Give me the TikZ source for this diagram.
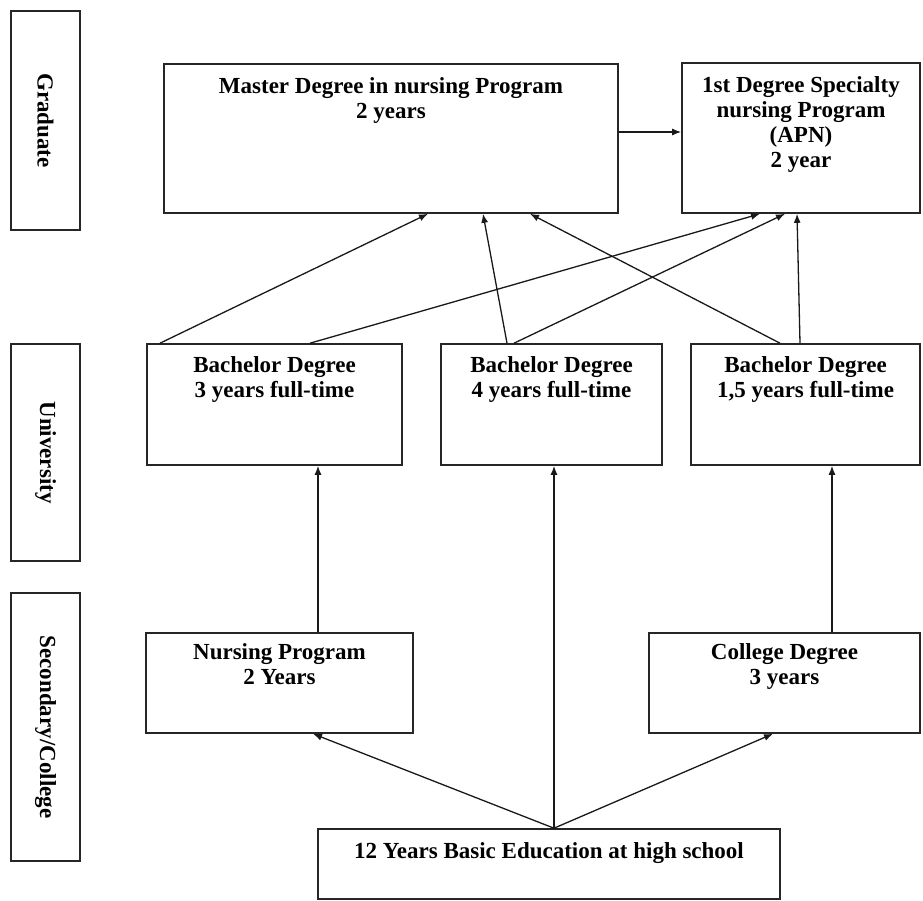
\documentclass[tikz,border=0pt]{standalone}
\usepackage{fontspec}
\setmainfont{Liberation Serif}
\usetikzlibrary{arrows.meta}
\begin{document}
\begin{tikzpicture}[x=1pt,y=-1pt,
  box/.style={draw=black!85, line width=1.6pt, fill=white, inner sep=0pt},
  side/.style={box, rotate=-90, font=\fontsize{23}{25}\selectfont\bfseries},
  txt/.style={font=\fontsize{23}{25}\selectfont\bfseries, align=center, inner sep=0pt, anchor=north},
  arr/.style={draw=black!90, line width=1.3pt, -{Latex[length=9pt,width=7pt]}}
]
\useasboundingbox (0,0) rectangle (923,901);
\fill[white] (0,0) rectangle (923,901);

% side labels
\node[side, minimum width=219pt, minimum height=69pt] (grad) at (45.5,120.5) {Graduate};
\node[side, minimum width=217pt, minimum height=69pt] (univ) at (45.5,452.5) {University};
\node[side, minimum width=268pt, minimum height=69pt] (sec) at (45.5,727) {Secondary/College};

% boxes
\node[box, minimum width=454pt, minimum height=149pt] (master) at (391,138.5) {};
\node[txt] (mastert) at ([yshift=-14pt]master.north) {Master Degree in nursing Program\\2 years};

\node[box, minimum width=238pt, minimum height=150pt] (first) at (801,138) {};
\node[txt] (firstt) at ([yshift=-14pt]first.north) {1st Degree Specialty\\nursing Program\\(APN)\\2 year};

\node[box, minimum width=255pt, minimum height=121pt] (b3) at (274.5,404.5) {};
\node[txt] (b3t) at ([yshift=-13pt]b3.north) {Bachelor Degree\\3 years full-time};

\node[box, minimum width=221pt, minimum height=121pt] (b4) at (551.5,404.5) {};
\node[txt] (b4t) at ([yshift=-13pt]b4.north) {Bachelor Degree\\4 years full-time};

\node[box, minimum width=229pt, minimum height=121pt] (b15) at (805.5,404.5) {};
\node[txt] (b15t) at ([yshift=-13pt]b15.north) {Bachelor Degree\\1,5 years full-time};

\node[box, minimum width=267pt, minimum height=100pt] (nurs) at (279.5,683) {};
\node[txt] (nurst) at ([yshift=-11pt]nurs.north) {Nursing Program\\2 Years};

\node[box, minimum width=271pt, minimum height=100pt] (coll) at (784.5,683) {};
\node[txt] (collt) at ([yshift=-11pt]coll.north) {College Degree\\3 years};

\node[box, minimum width=462pt, minimum height=70pt] (twelve) at (549,864) {};
\node[txt] (twelvet) at ([yshift=-14pt]twelve.north) {12 Years Basic Education at high school};

% connectors
\draw[arr] (master.east |- 0,132) -- (first.west |- 0,132);

\draw[arr] (b3.north -| 160,0) -- (master.south -| 428,0);
\draw[arr] (b3.north -| 310,0) -- (first.south -| 760,0);
\draw[arr] (b4.north -| 507,0) -- (master.south -| 483,0);
\draw[arr] (b4.north -| 514,0) -- (first.south -| 785,0);
\draw[arr] (b15.north -| 780,0) -- (master.south -| 530,0);
\draw[arr] (b15.north -| 800,0) -- (first.south -| 797,0);

\draw[arr] (nurs.north -| 318,0) -- (b3.south -| 318,0);
\draw[arr] (twelve.north -| 554,0) -- (b4.south -| 554,0);
\draw[arr] (coll.north -| 832,0) -- (b15.south -| 832,0);

\draw[arr] (twelve.north -| 554,0) -- (nurs.south -| 313,0);
\draw[arr] (twelve.north -| 554,0) -- (coll.south -| 773,0);
\end{tikzpicture}
\end{document}
